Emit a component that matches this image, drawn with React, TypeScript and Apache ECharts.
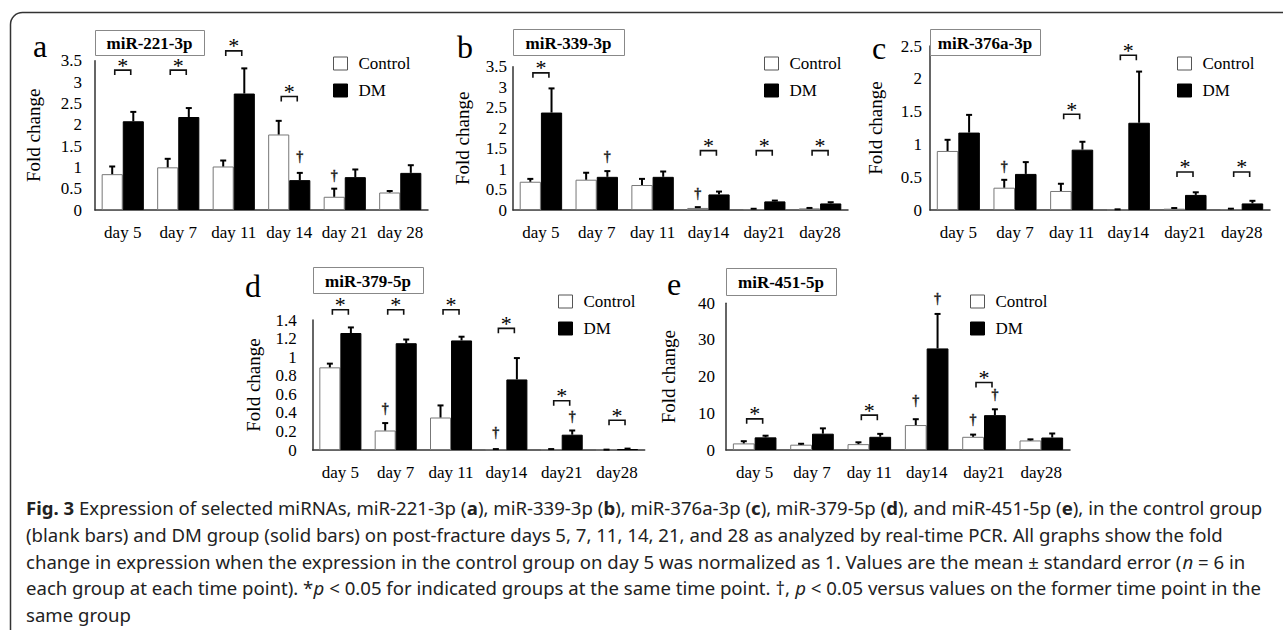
import React, { useEffect, useRef } from 'react';
import * as echarts from 'echarts';

const SERIF = '"Liberation Serif", "Times New Roman", serif';
const SANS = '"Noto Sans", "Open Sans", sans-serif';

const daysSpaced = ['day 5', 'day 7', 'day 11', 'day 14', 'day 21', 'day 28'];
const daysCompact = ['day 5', 'day 7', 'day 11', 'day14', 'day21', 'day28'];
const legendNames = ['Control', 'DM'];

// (a) miR-221-3p
const aTitle = 'miR-221-3p';
const aCtrl = [0.84, 1.0, 1.02, 1.77, 0.31, 0.41];
const aCtrlSE = [0.18, 0.2, 0.14, 0.32, 0.19, 0.035];
const aDM = [2.08, 2.18, 2.73, 0.7, 0.77, 0.87];
const aDMSE = [0.22, 0.21, 0.59, 0.17, 0.18, 0.18];
const aSig = [[0, 3.28], [1, 3.28], [2, 3.73], [3, 2.66]];
const aDagger = [[3, 1, 1.25], [4, 0, 0.82]];

// (b) miR-339-3p
const bTitle = 'miR-339-3p';
const bCtrl = [0.69, 0.74, 0.61, 0.05, 0.02, 0.04];
const bCtrlSE = [0.07, 0.17, 0.15, 0.02, 0.01, 0.01];
const bDM = [2.38, 0.81, 0.81, 0.38, 0.21, 0.16];
const bDMSE = [0.59, 0.14, 0.13, 0.07, 0.02, 0.03];
const bSig = [[0, 3.35], [3, 1.45], [4, 1.45], [5, 1.45]];
const bDagger = [[1, 1, 1.3], [3, 0, 0.41]];

// (c) miR-376a-3p
const cTitle = 'miR-376a-3p';
const cCtrl = [0.9, 0.34, 0.29, 0.005, 0.02, 0.01];
const cCtrlSE = [0.17, 0.12, 0.11, 0.005, 0.01, 0.01];
const cDM = [1.18, 0.55, 0.92, 1.33, 0.23, 0.1];
const cDMSE = [0.27, 0.18, 0.12, 0.78, 0.04, 0.04];
const cSig = [[2, 1.46], [3, 2.36], [4, 0.58], [5, 0.58]];
const cDagger = [[1, 0, 0.66]];

// (d) miR-379-5p
const dTitle = 'miR-379-5p';
const dCtrl = [0.89, 0.21, 0.35, 0.005, 0.005, 0.002];
const dCtrlSE = [0.04, 0.08, 0.13, 0.005, 0.005, 0.002];
const dDM = [1.26, 1.15, 1.18, 0.76, 0.165, 0.01];
const dDMSE = [0.06, 0.04, 0.04, 0.23, 0.045, 0.005];
const dSig = [[0, 1.51], [1, 1.51], [2, 1.51], [3, 1.31], [4, 0.53], [5, 0.32]];
const dDagger = [[1, 0, 0.45], [3, 0, 0.19], [4, 1, 0.36]];

// (e) miR-451-5p
const eTitle = 'miR-451-5p';
const eCtrl = [1.8, 1.45, 1.6, 6.8, 3.6, 2.6];
const eCtrlSE = [0.6, 0.25, 0.5, 1.6, 0.6, 0.3];
const eDM = [3.45, 4.45, 3.6, 27.7, 9.5, 3.4];
const eDMSE = [0.45, 1.45, 0.8, 9.4, 1.6, 1.1];
const eSig = [[0, 8.5], [2, 9.5], [4, 18.4]];
const eDagger = [[3, 0, 13.5], [3, 1, 41.4], [4, 0, 8.2], [4, 1, 15]];

const captionLines = [
  '{b|Fig. 3} Expression of selected miRNAs, miR-221-3p ({b|a}), miR-339-3p ({b|b}), miR-376a-3p ({b|c}), miR-379-5p ({b|d}), and miR-451-5p ({b|e}), in the control group',
  '(blank bars) and DM group (solid bars) on post-fracture days 5, 7, 11, 14, 21, and 28 as analyzed by real-time PCR. All graphs show the fold',
  'change in expression when the expression in the control group on day 5 was normalized as 1. Values are the mean \u00b1 standard error ({i|n} = 6 in',
  'each group at each time point). *{i|p} < 0.05 for indicated groups at the same time point. \u2020, {i|p} < 0.05 versus values on the former time point in the',
  'same group',
];

const panels = [
  { letter: 'a', title: aTitle, cats: daysSpaced, ctrl: aCtrl, ctrlSE: aCtrlSE, dm: aDM, dmSE: aDMSE, sig: aSig, dagger: aDagger,
    max: 3.5, interval: 0.5, grid: { left: 95, top: 60.7, width: 333, height: 149.3 }, labelMargin: 13, nameGap: 52,
    letterPos: [33, 46], box: [95, 30, 109, 25], legendPos: [333, 55] },
  { letter: 'b', title: bTitle, cats: daysCompact, ctrl: bCtrl, ctrlSE: bCtrlSE, dm: bDM, dmSE: bDMSE, sig: bSig, dagger: bDagger,
    max: 3.5, interval: 0.5, grid: { left: 513, top: 66.7, width: 335, height: 143.3 }, labelMargin: 6, nameGap: 41,
    letterPos: [457, 47], box: [513, 29, 111, 26], legendPos: [764, 55] },
  { letter: 'c', title: cTitle, cats: daysCompact, ctrl: cCtrl, ctrlSE: cCtrlSE, dm: cDM, dmSE: cDMSE, sig: cSig, dagger: cDagger,
    max: 2.5, interval: 0.5, grid: { left: 930, top: 46, width: 340, height: 164 }, labelMargin: 8, nameGap: 45,
    letterPos: [872, 48], box: [930, 29, 110, 26], legendPos: [1177, 55] },
  { letter: 'd', title: dTitle, cats: daysCompact, ctrl: dCtrl, ctrlSE: dCtrlSE, dm: dDM, dmSE: dDMSE, sig: dSig, dagger: dDagger,
    max: 1.4, interval: 0.2, grid: { left: 312.7, top: 320, width: 332, height: 130 }, labelMargin: 16, nameGap: 50,
    letterPos: [245, 286], box: [313, 267, 110, 26], legendPos: [558, 293] },
  { letter: 'e', title: eTitle, cats: daysCompact, ctrl: eCtrl, ctrlSE: eCtrlSE, dm: eDM, dmSE: eDMSE, sig: eSig, dagger: eDagger,
    max: 40, interval: 10, grid: { left: 726, top: 303.3, width: 344, height: 146.7 }, labelMargin: 11, nameGap: 48,
    letterPos: [667, 284], box: [726, 268, 110, 27], legendPos: [970, 293] },
];

const BAR_HALF = 0.19; // bar centre offset as fraction of category width

function errRender(sign: number) {
  return (params: any, api: any) => {
    const cat = api.value(0);
    const mean = api.value(1);
    const se = api.value(2);
    const p0 = api.coord([cat, mean]);
    const p1 = api.coord([cat, mean + se]);
    const W = api.size([1, 0])[0];
    const x = p0[0] + sign * W * BAR_HALF;
    return {
      type: 'group',
      children: [
        { type: 'line', shape: { x1: x, y1: p0[1], x2: x, y2: p1[1] }, style: { stroke: '#000', lineWidth: 2 } },
        { type: 'line', shape: { x1: x - 3, y1: p1[1], x2: x + 3, y2: p1[1] }, style: { stroke: '#000', lineWidth: 2 } },
      ],
    };
  };
}

function sigRender(params: any, api: any) {
  const cat = api.value(0);
  const y = api.value(1);
  const p = api.coord([cat, y]);
  const hw = 8;
  return {
    type: 'group',
    children: [
      {
        type: 'polyline',
        shape: { points: [[p[0] - hw, p[1] + 5], [p[0] - hw, p[1]], [p[0] + hw, p[1]], [p[0] + hw, p[1] + 5]] },
        style: { stroke: '#111', lineWidth: 1.6, fill: 'none' },
      },
      {
        type: 'text',
        x: p[0],
        y: p[1] - 5,
        style: { text: '*', fontFamily: SERIF, fontSize: 22, fill: '#000', align: 'center', verticalAlign: 'middle' },
      },
    ],
  };
}

function daggerRender(params: any, api: any) {
  const cat = api.value(0);
  const g = api.value(1);
  const y = api.value(2);
  const p = api.coord([cat, y]);
  const W = api.size([1, 0])[0];
  const x = p[0] + (g === 0 ? -1 : 1) * W * BAR_HALF;
  return {
    type: 'group',
    children: [
      {
        type: 'text',
        x,
        y: p[1],
        style: {
          text: '\u2020', fontFamily: SERIF, fontSize: 14, fontWeight: 'bold', fill: '#222',
          stroke: '#222', lineWidth: 0.3, align: 'center', verticalAlign: 'middle',
        },
      },
    ],
  };
}

function stripRich(s: string) {
  return s.replace(/\{[a-z]\|([^}]*)\}/g, '$1');
}

export default function App() {
  const ref = useRef<HTMLDivElement>(null);
  useEffect(() => {
    if (!ref.current) return;
    const chart = echarts.init(ref.current, undefined, { renderer: 'svg' });

    const capSize = 18;
    let capScale = 0.9;
    try {
      const cv = document.createElement('canvas');
      const ctx = cv.getContext('2d');
      if (ctx) {
        ctx.font = `${capSize}px "Noto Sans"`;
        const w = ctx.measureText(stripRich(captionLines[0])).width;
        if (w > 0) capScale = 1232 / w;
      }
    } catch (e) {}

    const grids: any[] = [];
    const xAxes: any[] = [];
    const yAxes: any[] = [];
    const series: any[] = [];
    const legends: any[] = [];
    const graphics: any[] = [];

    graphics.push({
      type: 'rect',
      shape: { x: 10.5, y: 12.5, width: 1320, height: 700, r: 12 },
      style: { fill: 'none', stroke: '#333', lineWidth: 1.5 },
      z: 0,
    });

    panels.forEach((p, i) => {
      grids.push({ ...p.grid, containLabel: false });
      xAxes.push({
        type: 'category',
        gridIndex: i,
        data: p.cats,
        axisLine: { lineStyle: { color: '#333', width: 1.5 } },
        axisTick: { show: false },
        axisLabel: { interval: 0, margin: 14, fontFamily: SERIF, fontSize: 17, color: '#000' },
      });
      yAxes.push({
        type: 'value',
        gridIndex: i,
        min: 0,
        max: p.max,
        interval: p.interval,
        name: 'Fold change',
        nameLocation: 'middle',
        nameGap: p.nameGap,
        nameTextStyle: { fontFamily: SERIF, fontSize: 19, color: '#000' },
        axisLine: { show: true, lineStyle: { color: '#333', width: 1.5 } },
        axisTick: { show: false },
        splitLine: { show: false },
        axisLabel: { margin: p.labelMargin, fontFamily: SERIF, fontSize: 17, color: '#000' },
      });
      series.push({
        type: 'bar', name: 'Control', xAxisIndex: i, yAxisIndex: i, data: p.ctrl,
        barGap: '0%', barCategoryGap: '24%',
        itemStyle: { color: '#fff', borderColor: '#777', borderWidth: 1 },
        silent: true,
      });
      series.push({
        type: 'bar', name: 'DM', xAxisIndex: i, yAxisIndex: i, data: p.dm,
        barGap: '0%', barCategoryGap: '24%',
        itemStyle: { color: '#000', borderColor: '#000', borderWidth: 1 },
        silent: true,
      });
      series.push({
        type: 'custom', name: 'errCtrl' + i, xAxisIndex: i, yAxisIndex: i, clip: false, silent: true, z: 3,
        color: '#000',
        data: p.ctrl.map((v, k) => [k, v, p.ctrlSE[k]]),
        renderItem: errRender(-1),
      });
      series.push({
        type: 'custom', name: 'errDM' + i, xAxisIndex: i, yAxisIndex: i, clip: false, silent: true, z: 3,
        color: '#000',
        data: p.dm.map((v, k) => [k, v, p.dmSE[k]]),
        renderItem: errRender(1),
      });
      series.push({
        type: 'custom', name: 'sig' + i, xAxisIndex: i, yAxisIndex: i, clip: false, silent: true, z: 4,
        color: '#000',
        data: p.sig,
        renderItem: sigRender,
      });
      series.push({
        type: 'custom', name: 'dagger' + i, xAxisIndex: i, yAxisIndex: i, clip: false, silent: true, z: 4,
        color: '#000',
        encode: { x: 0, y: 2 },
        data: p.dagger,
        renderItem: daggerRender,
      });
      legends.push({
        orient: 'vertical',
        left: p.legendPos[0],
        top: p.legendPos[1],
        padding: 0,
        itemWidth: 14,
        itemHeight: 13,
        itemGap: 10,
        icon: 'rect',
        selectedMode: false,
        textStyle: { fontFamily: SERIF, fontSize: 17, color: '#000', padding: [0, 0, 0, 6] },
        data: [
          { name: legendNames[0], itemStyle: { color: '#fff', borderColor: '#555', borderWidth: 1 } },
          { name: legendNames[1], itemStyle: { color: '#000', borderColor: '#000', borderWidth: 1 } },
        ],
      });
      graphics.push({
        type: 'text',
        x: p.letterPos[0],
        y: p.letterPos[1],
        style: { text: p.letter, fontFamily: SERIF, fontSize: 32, fill: '#000', align: 'left', verticalAlign: 'middle' },
        z: 10,
      });
      graphics.push({
        type: 'rect',
        shape: { x: p.box[0] + 0.5, y: p.box[1] + 0.5, width: p.box[2], height: p.box[3] },
        style: { fill: '#fff', stroke: '#888', lineWidth: 1 },
        z: 10,
      });
      graphics.push({
        type: 'text',
        x: p.box[0] + p.box[2] / 2,
        y: p.box[1] + p.box[3] / 2 + 1,
        style: { text: p.title, fontFamily: SERIF, fontWeight: 'bold', fontSize: 17, fill: '#000', align: 'center', verticalAlign: 'middle' },
        z: 11,
      });
    });

    captionLines.forEach((line, k) => {
      graphics.push({
        type: 'text',
        x: 26,
        y: 508 + k * 26.7,
        scaleX: capScale,
        style: {
          text: line,
          fontFamily: SANS,
          fontSize: capSize,
          fill: '#222',
          align: 'left',
          verticalAlign: 'middle',
          rich: {
            b: { fontFamily: SANS, fontSize: capSize, fontWeight: 'bold', fill: '#222' },
            i: { fontFamily: SANS, fontSize: capSize, fontStyle: 'italic', fill: '#222' },
          },
        },
        z: 10,
      });
    });

    chart.setOption({
      animation: false,
      backgroundColor: '#fff',
      color: ['#000'],
      grid: grids,
      xAxis: xAxes,
      yAxis: yAxes,
      legend: legends,
      series,
      graphic: graphics,
    });
    return () => chart.dispose();
  }, []);

  return <div ref={ref} style={{ position: 'absolute', left: 0, top: 0, width: 1283, height: 630 }} />;
}
